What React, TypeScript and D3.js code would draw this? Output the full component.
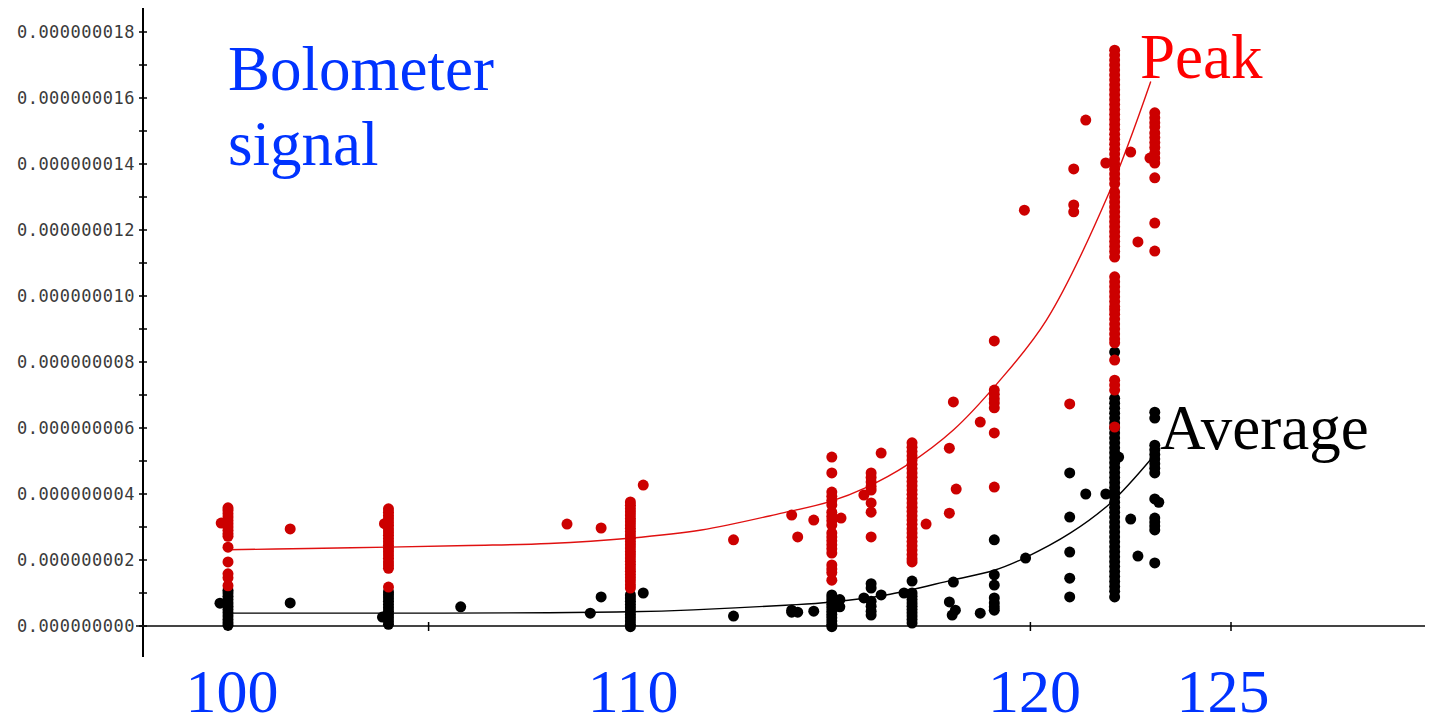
import React from "react";
import * as d3 from "d3";

// Bolometer signal (in units of 1e-10) versus setting; each [x, y] pair is one shot.
const peakPoints: [number, number][] = [
  [99.83, 31.2],
  [100, 35.8], [100, 35], [100, 34], [100, 33], [100, 32], [100, 31], [100, 30], [100, 29], [100, 28], [100, 27.2],
  [100, 23.9], [100, 19.4], [100, 15.8], [100, 14.6], [100, 12.2],
  [101.55, 29.4],
  [103.9, 31],
  [104, 35.5], [104, 34.5], [104, 33.5], [104, 32.5], [104, 31.5], [104, 30.5], [104, 29.5], [104, 28.5], [104, 27.5],
  [104, 26.5], [104, 25.5], [104, 24.5], [104, 23.5], [104, 22.5], [104, 21.5], [104, 20.5], [104, 19.5], [104, 18.5],
  [104, 17.5], [104, 11.8],
  [108.45, 30.9],
  [109.3, 29.7],
  [110.03, 37.6], [110.03, 36.6], [110.03, 35.6], [110.03, 34.6], [110.03, 33.6], [110.03, 32.6], [110.03, 31.6],
  [110.03, 30.6], [110.03, 29.6], [110.03, 28.6], [110.03, 27.6], [110.03, 26.6], [110.03, 25.6], [110.03, 24.6],
  [110.03, 23.6], [110.03, 22.6], [110.03, 21.6], [110.03, 20.6], [110.03, 19.6], [110.03, 18.6], [110.03, 17.6],
  [110.03, 16.6], [110.03, 15.6], [110.03, 14.6], [110.03, 13.6], [110.03, 12.5], [110.03, 11.5],
  [110.35, 42.7],
  [112.6, 26.1],
  [114.05, 33.6], [114.2, 27.0], [114.6, 32.1],
  [115.05, 51.2], [115.05, 46.4], [115.05, 40.6], [115.05, 39.3], [115.05, 38], [115.05, 36.7], [115.05, 34.5],
  [115.05, 33.2], [115.05, 31.9], [115.05, 30.6], [115.05, 28.2], [115.05, 27], [115.05, 25.8], [115.05, 24.6],
  [115.05, 23.4], [115.05, 22.1], [115.05, 18.5], [115.05, 17.3], [115.05, 16.2], [115.05, 13.9],
  [115.28, 32.7],
  [115.85, 39.7],
  [116.03, 46.4], [116.03, 45], [116.03, 43.6], [116.03, 42.3], [116.03, 41.2], [116.03, 37.3], [116.03, 34.5], [116.03, 27.0],
  [116.28, 52.4],
  [117.05, 55.5], [117.05, 54.2], [117.05, 52.9], [117.05, 51.6], [117.05, 50.3], [117.05, 49], [117.05, 47.7],
  [117.05, 46.4], [117.05, 45.1], [117.05, 43.8], [117.05, 42.5], [117.05, 41.2], [117.05, 39.9], [117.05, 38.6],
  [117.05, 37.3], [117.05, 36], [117.05, 34.7], [117.05, 33.4], [117.05, 32.1], [117.05, 30.8], [117.05, 29.5],
  [117.05, 28.2], [117.05, 26.9], [117.05, 25.6], [117.05, 24.3], [117.05, 23], [117.05, 21.7], [117.05, 20.4], [117.05, 19.4],
  [117.4, 30.9],
  [117.98, 53.9], [117.98, 34.2],
  [118.08, 67.9], [118.15, 41.5],
  [118.75, 61.8],
  [119.1, 86.4], [119.1, 71.5], [119.1, 70.2], [119.1, 68.9], [119.1, 67.6], [119.1, 66.1], [119.1, 58.5], [119.1, 42.1],
  [119.85, 126],
  [120.98, 67.3],
  [121.08, 138.5], [121.08, 127.6], [121.08, 125.5],
  [121.38, 153.3],
  [121.88, 140.3],
  [122.1, 174.5], [122.1, 173], [122.1, 171.5], [122.1, 170], [122.1, 168.5], [122.1, 167], [122.1, 165.5], [122.1, 164],
  [122.1, 162.5], [122.1, 161], [122.1, 159.5], [122.1, 158], [122.1, 156.5], [122.1, 155], [122.1, 153.5], [122.1, 152],
  [122.1, 150.5], [122.1, 149], [122.1, 147.5], [122.1, 146], [122.1, 144.5], [122.1, 143], [122.1, 141.5], [122.1, 140],
  [122.1, 138.5], [122.1, 137], [122.1, 135.5], [122.1, 134],
  [122.1, 131.5], [122.1, 130], [122.1, 128.5], [122.1, 127], [122.1, 125.5], [122.1, 124], [122.1, 122.5], [122.1, 121],
  [122.1, 119.5], [122.1, 118], [122.1, 116.5], [122.1, 115], [122.1, 113.5], [122.1, 111.8],
  [122.1, 105.8], [122.1, 104.3], [122.1, 102.8], [122.1, 101.3], [122.1, 99.8], [122.1, 98.3], [122.1, 96.8], [122.1, 95.8],
  [122.1, 94.5], [122.1, 93], [122.1, 91.5], [122.1, 90], [122.1, 88.5], [122.1, 87], [122.1, 85.8],
  [122.1, 80.6], [122.1, 74.5], [122.1, 73], [122.1, 71.5], [122.1, 60.3],
  [122.5, 143.6],
  [122.68, 116.4],
  [122.98, 141.8],
  [123.1, 155.5], [123.1, 154], [123.1, 152.5], [123.1, 151.2], [123.1, 149.4], [123.1, 148], [123.1, 146.5],
  [123.1, 145], [123.1, 143.3], [123.1, 141.8], [123.1, 140.3], [123.1, 135.8], [123.1, 122.1], [123.1, 113.6],
];

const averagePoints: [number, number][] = [
  [99.8, 6.9],
  [100, 10.8], [100, 10], [100, 9], [100, 8], [100, 7], [100, 6], [100, 5], [100, 4], [100, 3], [100, 2], [100, 1], [100, 0.2],
  [101.55, 7.0],
  [103.85, 2.7],
  [104, 10.3], [104, 9.5], [104, 8.5], [104, 7.5], [104, 6.5], [104, 5.5], [104, 4.5], [104, 3.5], [104, 2.5], [104, 1.5], [104, 0.5],
  [105.8, 5.8],
  [109.03, 3.9],
  [109.3, 8.8],
  [110.03, 9.4], [110.03, 8.5], [110.03, 7.5], [110.03, 6.5], [110.03, 5.5], [110.03, 4.5], [110.03, 3.5], [110.03, 2.5],
  [110.03, 1.5], [110.03, 0.5], [110.03, -0.2],
  [110.35, 10.0],
  [112.6, 3.0],
  [114.05, 4.8], [114.05, 4.2], [114.2, 4.2], [114.6, 4.5],
  [115.05, 9.4], [115.05, 8.5], [115.05, 7.5], [115.05, 6.5], [115.05, 5.5], [115.05, 4.5], [115.05, 3.5], [115.05, 2.5],
  [115.05, 1.5], [115.05, 0.5], [115.05, -0.2],
  [115.25, 5.8], [115.25, 8.0],
  [115.85, 8.5],
  [116.03, 12.8], [116.03, 11.5], [116.03, 7.5], [116.03, 6], [116.03, 4.5], [116.03, 3.3],
  [116.28, 9.4],
  [116.85, 10],
  [117.05, 13.6], [117.05, 10], [117.05, 9], [117.05, 8], [117.05, 7], [117.05, 6], [117.05, 5], [117.05, 4], [117.05, 3],
  [117.05, 2], [117.05, 0.9],
  [118.08, 13.3], [117.98, 7.3], [118.13, 4.8], [118.05, 3.3],
  [118.75, 3.9],
  [119.1, 26.1], [119.1, 15.5], [119.1, 12.4], [119.1, 8.5], [119.1, 7.0], [119.1, 5.8], [119.1, 4.8],
  [119.88, 20.6],
  [120.98, 46.4], [120.98, 33], [120.98, 22.4], [120.98, 14.5], [120.98, 8.8],
  [121.38, 40],
  [121.88, 40],
  [122.1, 83],
  [122.1, 69], [122.1, 67.5], [122.1, 66], [122.1, 64.5], [122.1, 63], [122.1, 61.5], [122.1, 60], [122.1, 58.5],
  [122.1, 57], [122.1, 55.5], [122.1, 54], [122.1, 52.5], [122.1, 51], [122.1, 49.5], [122.1, 48], [122.1, 46.5],
  [122.1, 45], [122.1, 43.5], [122.1, 42], [122.1, 40.5], [122.1, 39], [122.1, 37.5], [122.1, 36], [122.1, 34.5],
  [122.1, 33], [122.1, 31.5], [122.1, 30], [122.1, 28.5], [122.1, 27], [122.1, 25.5], [122.1, 24], [122.1, 22.5],
  [122.1, 21], [122.1, 19.5], [122.1, 18], [122.1, 16.5], [122.1, 15], [122.1, 13.5], [122.1, 12], [122.1, 10.5], [122.1, 8.8],
  [122.2, 51.2],
  [122.5, 32.4],
  [122.68, 21.2],
  [123.1, 64.8], [123.1, 63], [123.1, 54.8], [123.1, 53.4], [123.1, 52], [123.1, 50.6], [123.1, 49.2], [123.1, 47.8],
  [123.1, 46.4], [123.1, 38.5], [123.2, 37.5], [123.1, 32.7], [123.1, 31.5], [123.1, 30.3], [123.1, 29.1], [123.1, 19.1],
];

// Fitted trend curves, sampled along their length.
const peakFit: [number, number][] = [
  [100, 23.1], [102, 23.5], [104, 23.9], [106, 24.4], [108, 25.0], [110, 26.6], [111.8, 29.1], [113.8, 34.2],
  [115, 37.7], [115.93, 42.1], [116.93, 48.8], [118.08, 59.4], [119.18, 73.6], [120.4, 92.7], [121.95, 131], [123, 165],
];
const averageFit: [number, number][] = [
  [100, 3.9], [104, 3.9], [108, 4.0], [110, 4.3], [111.6, 4.9], [113.9, 6.3], [115, 7.2], [116.4, 9.4],
  [118.05, 13.9], [119.1, 16.9], [119.85, 20.6], [121, 28.2], [122, 37.3], [123.05, 51.2],
];

const yTicks = [0, 20, 40, 60, 80, 100, 120, 140, 160, 180];
const yMinorTicks = [10, 30, 50, 70, 90, 110, 130, 150, 170];
const xTicks = [100, 105, 110, 115, 120, 125];
const xLabels = [100, 110, 120, 125];

const W = 1430;
const H = 719;

export default function App() {
  const x = d3.scaleLinear().domain([100, 125]).range([228, 1231]);
  const y = d3.scaleLinear().domain([0, 180]).range([626, 32]);

  const line = d3
    .line<[number, number]>()
    .x((d) => x(d[0]))
    .y((d) => y(d[1]))
    .curve(d3.curveCatmullRom.alpha(0.5));

  const x0 = 143;
  const blue = "#0033ff";
  const serif = "'Liberation Serif', 'Times New Roman', serif";

  return (
    <svg width={W} height={H} style={{ position: "absolute", left: 0, top: 0, background: "#fff" }}>
      {/* axes */}
      <line x1={x0} x2={x0} y1={8} y2={657} stroke="#000" strokeWidth={2} />
      <line x1={136} x2={1425} y1={y(0)} y2={y(0)} stroke="#444" strokeWidth={2} />
      {yTicks.map((t) => (
        <g key={"yt" + t}>
          <line x1={139} x2={147} y1={y(t)} y2={y(t)} stroke="#000" strokeWidth={1.5} />
          <text
            x={135}
            y={y(t)}
            textAnchor="end"
            dominantBaseline="central"
            fontFamily="'DejaVu Sans Mono', monospace"
            fontSize={17}
            letterSpacing={0.5}
            fill="#3a3a3a"
          >
            {(t * 1e-10).toFixed(9)}
          </text>
        </g>
      ))}
      {yMinorTicks.map((t) => (
        <line key={"ym" + t} x1={139} x2={147} y1={y(t)} y2={y(t)} stroke="#000" strokeWidth={1.5} />
      ))}
      {xTicks.map((t) => (
        <line key={"xt" + t} x1={x(t)} x2={x(t)} y1={622} y2={631} stroke="#000" strokeWidth={1.5} />
      ))}
      {xLabels.map((t) => (
        <text
          key={"xl" + t}
          x={x(t) + (t === 125 ? -8 : 4)}
          y={712}
          textAnchor="middle"
          fontFamily={serif}
          fontSize={62}
          fill={blue}
        >
          {t}
        </text>
      ))}

      {/* fitted curves */}
      <path d={line(peakFit) ?? ""} fill="none" stroke="#e01010" strokeWidth={1.4} />
      <path d={line(averageFit) ?? ""} fill="none" stroke="#000" strokeWidth={1.4} />

      {/* shots */}
      {averagePoints.map((d, i) => (
        <circle key={"a" + i} cx={x(d[0])} cy={y(d[1])} r={5.5} fill="#000" />
      ))}
      {peakPoints.map((d, i) => (
        <circle key={"p" + i} cx={x(d[0])} cy={y(d[1])} r={5.5} fill="#cc0000" />
      ))}

      {/* annotations */}
      <text x={228} y={90} fontFamily={serif} fontSize={63} fill={blue}>
        Bolometer
      </text>
      <text x={228} y={165} fontFamily={serif} fontSize={63} fill={blue}>
        signal
      </text>
      <text x={1140} y={78} fontFamily={serif} fontSize={63} fill="#ff0000">
        Peak
      </text>
      <text x={1160} y={449} fontFamily={serif} fontSize={63} fill="#000">
        Average
      </text>
    </svg>
  );
}
